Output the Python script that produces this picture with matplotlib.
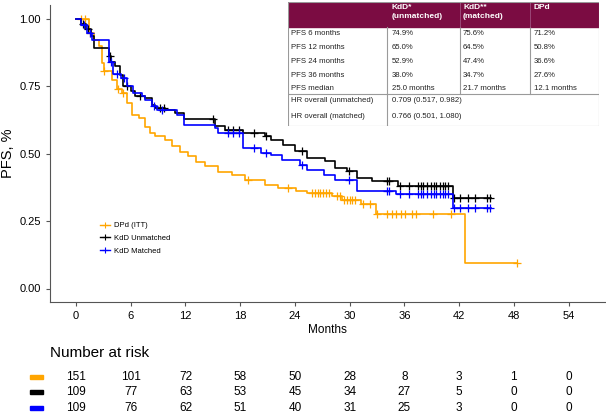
import matplotlib
matplotlib.use('Agg')
import matplotlib.pyplot as plt
import matplotlib.transforms as mtransforms
from matplotlib.patches import Rectangle
from matplotlib.lines import Line2D
import numpy as np

plt.rcParams['font.family'] = ['Liberation Sans', 'DejaVu Sans']

# ---- data ----
group_names = ['DPd (ITT)', 'KdD Unmatched', 'KdD Matched']
group_colors = ['#FFA500', '#000000', '#0000FF']

dpd_t = [0, 1.4, 2.0, 2.5, 2.9, 3.05, 4.0, 4.5, 5.05, 5.6, 6.15, 6.9, 7.6, 8.1, 8.7, 9.8,
         10.5, 11.4, 12.3, 13.2, 14.1, 15.6, 17.1, 18.5, 20.7, 22.1, 24.1, 25.3, 28.1,
         29.2, 31.2, 32.9, 42.7]
dpd_s = [1.0, 0.947, 0.92, 0.897, 0.835, 0.805, 0.774, 0.739, 0.724, 0.687, 0.644, 0.631,
         0.60, 0.575, 0.563, 0.55, 0.526, 0.507, 0.489, 0.468, 0.452, 0.433, 0.421, 0.402,
         0.384, 0.371, 0.362, 0.352, 0.341, 0.329, 0.314, 0.276, 0.094]
dpd_end = 48.3
dpd_cens = [0.5, 1.0, 1.5, 3.1, 4.6, 5.1, 18.9, 23.2, 25.9, 26.2, 26.5, 26.8, 27.1, 27.4,
            27.7, 28.6, 28.9, 29.4, 29.7, 30.0, 30.3, 30.6, 31.5, 32.2, 33.0, 34.1, 34.6,
            35.1, 35.6, 36.1, 36.8, 37.3, 39.1, 41.1, 48.3]

kdu_t = [0, 0.5, 1.05, 1.6, 2.0, 3.6, 3.8, 4.3, 4.8, 5.1, 6.0, 6.5, 7.6, 8.3, 8.7, 9.8,
         10.9, 11.8, 15.2, 16.3, 18.3, 20.7, 21.4, 22.7, 24.0, 25.3, 27.3, 28.4, 29.7,
         30.8, 32.4, 35.3, 41.3]
kdu_s = [1.0, 0.98, 0.96, 0.934, 0.891, 0.86, 0.84, 0.823, 0.79, 0.75, 0.73, 0.712, 0.705,
         0.681, 0.668, 0.662, 0.65, 0.628, 0.603, 0.588, 0.576, 0.563, 0.55, 0.533, 0.508,
         0.483, 0.471, 0.446, 0.434, 0.409, 0.397, 0.381, 0.337]
kdu_end = 45.5
kdu_cens = [0.8, 1.3, 3.7, 5.6, 7.0, 9.2, 9.6, 15.0, 16.7, 17.2, 17.9, 19.5, 20.8, 24.8,
            29.9, 34.1, 34.3, 35.5, 36.5, 37.5, 37.8, 38.1, 38.5, 38.9, 39.2, 39.5, 39.9,
            40.2, 40.5, 40.8, 41.4, 42.1, 43.0, 43.7, 45.1, 45.4]

kdm_t = [0, 0.6, 1.2, 1.8, 3.6, 4.1, 4.9, 5.6, 6.3, 7.2, 7.6, 8.3, 8.9, 11.1, 11.8, 15.2,
         15.6, 18.3, 20.3, 21.4, 22.6, 24.6, 25.3, 27.2, 28.4, 30.8, 35.1, 41.3]
kdm_s = [1.0, 0.975, 0.947, 0.922, 0.84, 0.796, 0.78, 0.751, 0.724, 0.712, 0.70, 0.675,
         0.662, 0.644, 0.606, 0.594, 0.575, 0.52, 0.501, 0.495, 0.477, 0.459, 0.44, 0.422,
         0.403, 0.36, 0.35, 0.30]
kdm_end = 45.5
kdm_cens = [0.9, 1.5, 3.8, 4.5, 5.3, 8.6, 9.4, 16.7, 17.2, 17.9, 19.5, 20.8, 24.8, 29.9,
            34.1, 34.3, 35.5, 36.5, 37.5, 37.8, 38.1, 38.5, 38.9, 39.2, 39.5, 39.9, 40.2,
            40.5, 40.8, 41.4, 42.1, 43.0, 43.7, 45.1, 45.4]

risk_times = [0, 6, 12, 18, 24, 30, 36, 42, 48, 54]
risk_dpd = [151, 101, 72, 58, 50, 28, 8, 3, 1, 0]
risk_kdu = [109, 77, 63, 53, 45, 34, 27, 5, 0, 0]
risk_kdm = [109, 76, 62, 51, 40, 31, 25, 3, 0, 0]

table_header = ['', 'KdD*\n(unmatched)', 'KdD**\n(matched)', 'DPd']
table_rows = ['PFS 6 months', 'PFS 12 months', 'PFS 24 months', 'PFS 36 months', 'PFS median']
table_kdu = ['74.9%', '65.0%', '52.9%', '38.0%', '25.0 months']
table_kdm = ['75.6%', '64.5%', '47.4%', '34.7%', '21.7 months']
table_dpd = ['71.2%', '50.8%', '36.6%', '27.6%', '12.1 months']
hr_labels = ['HR overall (unmatched)', 'HR overall (matched)']
hr_values = ['0.709 (0.517, 0.982)', '0.766 (0.501, 1.080)']

# ---- figure ----
W, H = 606, 419
fig = plt.figure(figsize=(W / 100, H / 100), dpi=100)
ax = fig.add_axes([50 / W, 1 - 302 / H, 555 / W, 297 / H])

groups = [(dpd_t, dpd_s, dpd_end, dpd_cens),
          (kdu_t, kdu_s, kdu_end, kdu_cens),
          (kdm_t, kdm_s, kdm_end, kdm_cens)]

for (t, s, end, cens), col, name in zip(groups, group_colors, group_names):
    tt = list(t) + [end]
    ss = list(s) + [s[-1]]
    ax.step(tt, ss, where='post', color=col, lw=1.2)
    # censor marks on the curve
    idx = np.searchsorted(np.array(t), np.array(cens), side='right') - 1
    ax.plot(cens, np.array(s)[idx], ls='none', marker='+', ms=5.5, mew=0.9, color=col)

ax.set_xlim(-2.85, 58)
ax.set_ylim(-0.05, 1.05)
ax.set_xticks(risk_times)
ax.set_yticks([0, 0.25, 0.5, 0.75, 1.0])
ax.set_yticklabels(['0.00', '0.25', '0.50', '0.75', '1.00'])
ax.tick_params(labelsize=8, color='#555555', length=3)
for sp in ['top', 'right']:
    ax.spines[sp].set_visible(False)
for sp in ['left', 'bottom']:
    ax.spines[sp].set_color('#555555')
ax.set_xlabel('Months', fontsize=8.5, labelpad=2)
ax.set_ylabel('PFS, %', fontsize=10.5, labelpad=3)

handles = [Line2D([], [], color=c, lw=1.0, marker='+', ms=4, mew=0.8) for c in group_colors]
ax.legend(handles, group_names, loc='upper left', bbox_to_anchor=(0.085, 0.28),
          frameon=False, fontsize=5.5, handlelength=1.3, handletextpad=0.5,
          labelspacing=0.7, borderaxespad=0)

# ---- number at risk ----
tr = mtransforms.blended_transform_factory(ax.transData, fig.transFigure)
fig.text(50 / W, 1 - 353 / H, 'Number at risk', fontsize=11, va='center', ha='left')
for row, col, ypx in zip([risk_dpd, risk_kdu, risk_kdm], group_colors, [377, 392, 408]):
    fig.patches.append(Rectangle((30 / W, 1 - (ypx + 2) / H), 13 / W, 4 / H,
                                 transform=fig.transFigure, color=col))
    for x, n in zip(risk_times, row):
        fig.text(x, 1 - ypx / H, str(n), transform=tr, fontsize=8.5,
                 ha='center', va='center')

# ---- summary table (pixel coordinates) ----
tab = fig.add_axes([288 / W, 1 - 126 / H, 311 / W, 124 / H])
tab.set_xlim(288, 599)
tab.set_ylim(126, 2)
tab.axis('off')
border = '#9a9a9a'
maroon = '#7B0C42'
tab.add_patch(Rectangle((288, 2), 311, 25, color=maroon, zorder=1))
tab.add_patch(Rectangle((288, 2), 311, 124, fill=False, ec=border, lw=0.8, zorder=3))
for xv in [387, 460, 530]:
    tab.plot([xv, xv], [27, 94], color=border, lw=0.8)
for xv in [460, 530]:
    tab.plot([xv, xv], [2, 27], color='#a05080', lw=0.6)
tab.plot([387, 387], [94, 126], color=border, lw=0.8)
tab.plot([288, 599], [94, 94], color=border, lw=0.8)

col_x = [291, 392, 463, 534]
for hx, htxt in zip(col_x[1:], table_header[1:]):
    tab.text(hx, 4, htxt, color='white', fontsize=6, fontweight='bold',
             va='top', ha='left', linespacing=1.35)
row_y = [33, 47, 61, 75, 89]
for i, y in enumerate(row_y):
    vals = [table_rows[i], table_kdu[i], table_kdm[i], table_dpd[i]]
    for xx, v in zip(col_x, vals):
        tab.text(xx, y, v, fontsize=5.6, va='center', ha='left', color='#222222')
for y, lab, val in zip([100, 117], hr_labels, hr_values):
    tab.text(col_x[0], y, lab, fontsize=5.6, va='center', ha='left', color='#222222')
    tab.text(col_x[1], y, val, fontsize=5.6, va='center', ha='left', color='#222222')

fig.savefig('out.png', dpi=100)
